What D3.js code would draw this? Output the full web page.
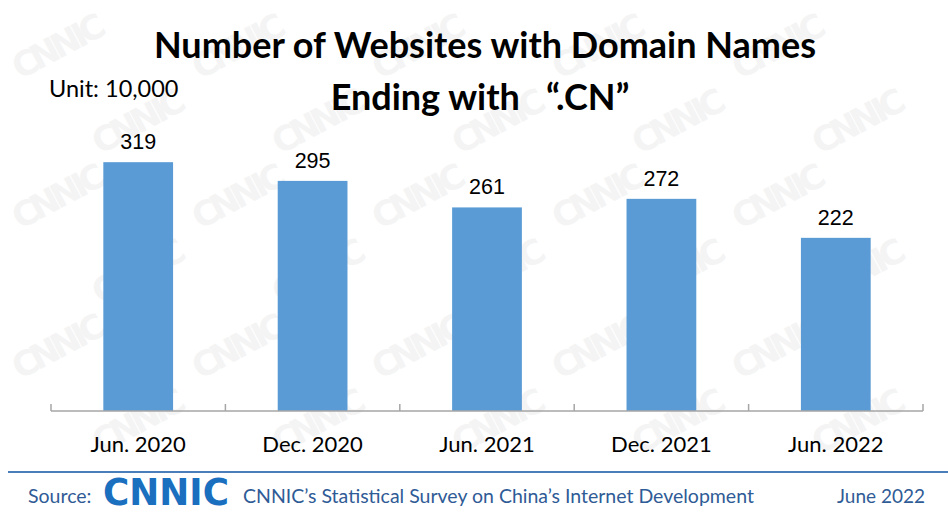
<!DOCTYPE html>
<html>
<head>
<meta charset="utf-8">
<script src="https://cdn.jsdelivr.net/npm/d3@7"></script>
<style>
  body { margin: 0; background: #fff; }
  svg { display: block; }
</style>
</head>
<body>
<script>
const width = 948;
const height = 515;

const categories = ["Jun. 2020", "Dec. 2020", "Jun. 2021", "Dec. 2021", "Jun. 2022"];
const values = [319, 295, 261, 272, 222];

const titleLines = ["Number of Websites with Domain Names", "Ending with \u00A0\u00A0\u201C.CN\u201D"];
const unitLabel = "Unit: 10,000";
const sourceText = "CNNIC\u2019s Statistical Survey on China\u2019s Internet Development";
const dateText = "June 2022";

const svg = d3.select("body").append("svg")
  .attr("width", width)
  .attr("height", height)
  .attr("viewBox", [0, 0, width, height]);

// faint watermark, kept inside the frame
const wm = svg.append("g").attr("fill", "#f4f4f4");
for (let r = 0; r < 6; r++) {
  for (let c = 0; c < 5; c++) {
    const x = 20 + c * 180 + (r % 2 ? 80 : 0);
    const y = 80 + r * 75;
    if (x > 840) continue;
    wm.append("text")
      .attr("transform", `translate(${x},${y}) rotate(-28)`)
      .attr("font-family", "DejaVu Sans")
      .attr("font-weight", "bold")
      .attr("font-size", 34)
      .attr("textLength", 100)
      .text("CNNIC");
  }
}

const x = d3.scaleBand()
  .domain(categories)
  .range([51, 923])
  .paddingInner(0.6)
  .paddingOuter(0.3);

const y = d3.scaleLinear()
  .domain([0, 350])
  .range([411, 138]);

svg.selectAll("rect.bar")
  .data(values)
  .enter().append("rect")
    .attr("class", "bar")
    .attr("x", (d, i) => x(categories[i]))
    .attr("width", x.bandwidth())
    .attr("y", d => y(d))
    .attr("height", d => y(0) - y(d))
    .attr("fill", "#5b9bd5");

svg.selectAll("text.val")
  .data(values)
  .enter().append("text")
    .attr("class", "val")
    .attr("x", (d, i) => x(categories[i]) + x.bandwidth() / 2)
    .attr("y", d => y(d) - 13)
    .attr("text-anchor", "middle")
    .attr("font-family", "Liberation Sans, Arial")
    .attr("font-size", 21.5)
    .attr("fill", "#000")
    .text(d => d);

// axis line with ticks on category boundaries
const axisG = svg.append("g")
  .attr("transform", `translate(0,${y(0)})`);
const step = x.step();
const bounds = d3.range(categories.length + 1).map(i => x.range()[0] + i * step);
axisG.append("line")
  .attr("x1", x.range()[0]).attr("x2", x.range()[1])
  .attr("stroke", "#a6a6a6").attr("stroke-width", 1.5);
axisG.selectAll("line.tk")
  .data(bounds)
  .enter().append("line")
    .attr("class", "tk")
    .attr("x1", d => d).attr("x2", d => d)
    .attr("y1", -7).attr("y2", 0)
    .attr("stroke", "#a6a6a6").attr("stroke-width", 1.5);

svg.selectAll("text.cat")
  .data(categories)
  .enter().append("text")
    .attr("class", "cat")
    .attr("x", d => x(d) + x.bandwidth() / 2)
    .attr("y", 452)
    .attr("text-anchor", "middle")
    .attr("font-family", "Lato, sans-serif")
    .attr("font-size", 22)
    .attr("fill", "#000")
    .text(d => d);

// title
svg.selectAll("text.title")
  .data(titleLines)
  .enter().append("text")
    .attr("class", "title")
    .attr("x", (d, i) => i ? 480 : 485)
    .attr("y", (d, i) => 58 + i * 52)
    .attr("text-anchor", "middle")
    .attr("font-family", "Lato, sans-serif")
    .attr("font-weight", "bold")
    .attr("font-size", 36)
    .attr("fill", "#000")
    .text(d => d);

svg.append("text")
  .attr("x", 49).attr("y", 97)
  .attr("font-family", "Lato, sans-serif")
  .attr("font-size", 23.5)
  .attr("fill", "#000")
  .text(unitLabel);

// footer
svg.append("line")
  .attr("x1", 8).attr("x2", width)
  .attr("y1", 472).attr("y2", 472)
  .attr("stroke", "#4a7ebb").attr("stroke-width", 2);

svg.append("text")
  .attr("x", 28).attr("y", 503)
  .attr("font-family", "Lato, sans-serif")
  .attr("font-size", 19.5)
  .attr("fill", "#2f5b96")
  .text("Source:");

svg.append("text")
  .attr("x", 103).attr("y", 505)
  .attr("font-family", "DejaVu Sans")
  .attr("font-weight", "bold")
  .attr("font-size", 38)
  .attr("textLength", 126)
  .attr("lengthAdjust", "spacingAndGlyphs")
  .attr("fill", "#1a6fbf")
  .text("CNNIC");

svg.append("text")
  .attr("x", 243).attr("y", 503)
  .attr("font-family", "Lato, sans-serif")
  .attr("font-size", 19.5)
  .attr("fill", "#2f5b96")
  .text(sourceText);

svg.append("text")
  .attr("x", 925).attr("y", 503)
  .attr("text-anchor", "end")
  .attr("font-family", "Lato, sans-serif")
  .attr("font-size", 19)
  .attr("fill", "#2f5b96")
  .text(dateText);
</script>
</body>
</html>
